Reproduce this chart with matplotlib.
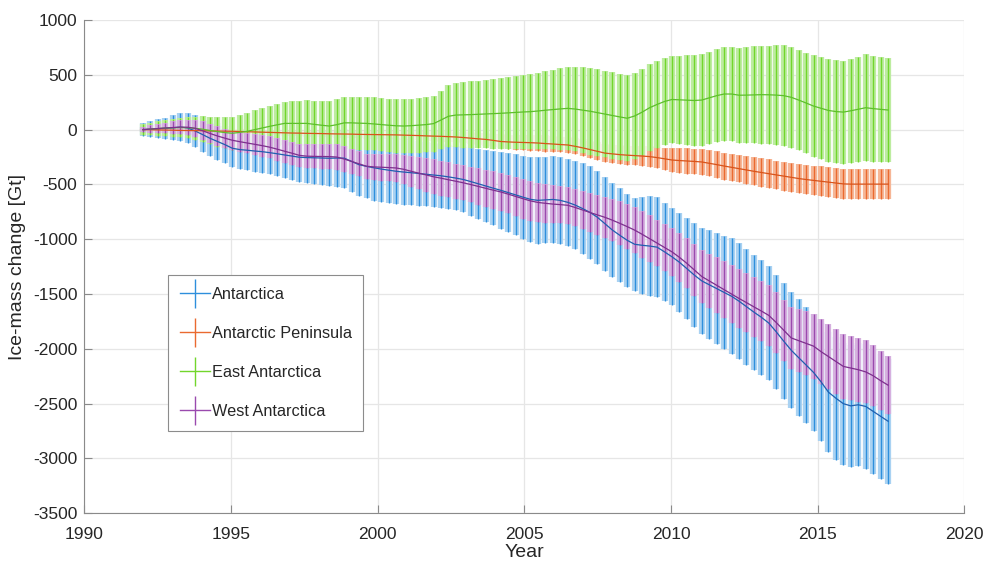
import numpy as np
import matplotlib
matplotlib.use("Agg")
import matplotlib.pyplot as plt
from matplotlib.container import ErrorbarContainer
from matplotlib.legend_handler import HandlerErrorbar
from matplotlib.lines import Line2D
from matplotlib.collections import LineCollection

plt.rcParams['font.family'] = ['Liberation Sans', 'DejaVu Sans']
plt.rcParams['axes.unicode_minus'] = False

# Time grid of the mass-balance estimates (decimal years)
years = np.linspace(1992.0, 2017.4, 101)

# Antarctica (whole ice sheet): cumulative mass change and 1-sigma uncertainty [Gt]
ais_mass = [
    0, 4, 8, 12, 17, 23, 15, -12, -45, -79,
    -108, -137, -170, -182, -188, -195, -201, -210, -220, -231,
    -241, -252, -255, -257, -259, -261, -259, -260, -290, -320,
    -335, -348, -360, -370, -380, -387, -393, -400, -407, -414,
    -421, -431, -442, -455, -474, -494, -514, -534, -553, -574,
    -595, -616, -636, -645, -641, -637, -645, -663, -688, -720,
    -755, -800, -858, -916, -964, -1010, -1046, -1055, -1062, -1072,
    -1115, -1160, -1210, -1268, -1327, -1380, -1415, -1450, -1485, -1520,
    -1565, -1615, -1665, -1712, -1765, -1845, -1930, -2012, -2080, -2147,
    -2215, -2300, -2395, -2450, -2500, -2520, -2510, -2525, -2570, -2615,
    -2660]
ais_err = [
    60, 72, 85, 98, 112, 128, 140, 150, 158, 165,
    167, 168, 170, 176, 182, 187, 192, 198, 204, 210,
    216, 222, 230, 238, 246, 254, 260, 268, 276, 284,
    292, 300, 303, 302, 300, 298, 296, 294, 292, 290,
    290, 290, 292, 298, 310, 320, 330, 340, 350, 360,
    370, 380, 390, 395, 395, 395, 395, 395, 405, 418,
    422, 426, 430, 432, 430, 425, 422, 440, 458, 455,
    448, 442, 450, 460, 472, 485, 495, 505, 515, 528,
    530, 528, 525, 522, 520, 523, 527, 530, 532, 533,
    535, 540, 550, 560, 558, 555, 562, 570, 570, 570,
    570]

# Antarctic Peninsula
apis_mass = [
    0, -1, -3, -4, -5, -7, -8, -9, -10, -12,
    -13, -14, -15, -17, -19, -21, -23, -25, -27, -29,
    -31, -32, -34, -35, -36, -38, -39, -40, -41, -43,
    -44, -45, -46, -47, -48, -50, -52, -54, -57, -59,
    -61, -64, -67, -72, -78, -84, -89, -98, -108, -112,
    -115, -117, -119, -122, -127, -131, -136, -140, -152, -166,
    -182, -198, -214, -221, -228, -233, -237, -241, -246, -255,
    -266, -277, -282, -286, -290, -295, -307, -319, -332, -344,
    -356, -368, -380, -391, -402, -413, -424, -435, -446, -455,
    -463, -471, -479, -487, -495, -497, -497, -497, -497, -497,
    -497]
apis_err = [
    5, 6, 8, 9, 10, 11, 12, 14, 15, 16,
    17, 18, 20, 21, 22, 23, 24, 25, 26, 27,
    28, 29, 30, 31, 32, 33, 34, 35, 36, 37,
    38, 39, 40, 41, 42, 43, 44, 45, 46, 47,
    48, 49, 50, 52, 55, 57, 59, 62, 64, 66,
    68, 70, 72, 74, 74, 73, 72, 72, 74, 77,
    79, 82, 84, 85, 86, 87, 88, 90, 93, 97,
    102, 110, 116, 117, 117, 117, 119, 121, 123, 125,
    126, 127, 128, 129, 130, 131, 132, 133, 134, 134,
    135, 135, 136, 136, 137, 137, 137, 137, 137, 137,
    137]

# East Antarctica
eais_mass = [
    0, 5, 10, 14, 17, 19, 18, 12, 4, -8,
    -18, -27, -33, -25, -15, 0, 15, 30, 44, 57,
    57, 57, 57, 48, 40, 33, 45, 62, 62, 59,
    57, 52, 46, 40, 35, 33, 36, 41, 46, 55,
    88, 122, 133, 135, 137, 140, 143, 146, 149, 153,
    157, 161, 164, 170, 177, 183, 189, 194, 188, 178,
    168, 155, 142, 129, 116, 104, 125, 160, 200, 230,
    257, 275, 272, 269, 266, 270, 290, 310, 325, 325,
    314, 315, 317, 319, 318, 315, 310, 295, 270, 243,
    215, 195, 175, 165, 160, 172, 186, 200, 192, 185,
    179]
eais_err = [
    50, 58, 66, 73, 80, 89, 98, 107, 117, 127,
    136, 144, 152, 160, 168, 175, 180, 185, 191, 197,
    203, 207, 210, 214, 219, 224, 230, 235, 240, 241,
    242, 242, 243, 244, 244, 245, 247, 250, 252, 256,
    268, 283, 292, 298, 303, 308, 314, 320, 326, 331,
    336, 340, 344, 350, 357, 364, 371, 378, 384, 390,
    395, 395, 394, 393, 392, 392, 393, 394, 395, 395,
    395, 398, 403, 409, 415, 420, 422, 425, 427, 430,
    434, 438, 442, 446, 449, 453, 458, 460, 460, 460,
    462, 464, 466, 468, 470, 475, 481, 487, 484, 481,
    478]

# West Antarctica
wais_mass = [
    0, 5, 10, 15, 19, 23, 22, 12, -10, -35,
    -58, -78, -97, -110, -122, -134, -146, -160, -178, -197,
    -215, -235, -242, -244, -245, -246, -250, -268, -290, -312,
    -334, -340, -343, -346, -350, -362, -380, -397, -413, -430,
    -443, -457, -471, -485, -501, -518, -535, -552, -568, -588,
    -609, -630, -650, -664, -672, -679, -684, -690, -710, -733,
    -756, -778, -800, -826, -855, -885, -917, -955, -995, -1035,
    -1075, -1115, -1165, -1220, -1280, -1340, -1380, -1420, -1460, -1500,
    -1540, -1578, -1617, -1655, -1695, -1760, -1830, -1900, -1925, -1950,
    -1975, -2025, -2070, -2115, -2160, -2175, -2190, -2210, -2245, -2290,
    -2331]
wais_err = [
    25, 33, 41, 49, 56, 63, 70, 78, 85, 90,
    88, 86, 86, 90, 94, 98, 101, 103, 104, 104,
    105, 105, 107, 109, 111, 113, 115, 115, 115, 115,
    115, 118, 122, 126, 130, 135, 141, 147, 152, 158,
    158, 159, 159, 160, 163, 167, 170, 173, 175, 177,
    179, 181, 183, 181, 178, 175, 172, 170, 172, 175,
    178, 181, 187, 193, 200, 206, 212, 212, 212, 213,
    213, 216, 222, 229, 236, 244, 250, 256, 262, 268,
    271, 272, 273, 274, 275, 277, 279, 282, 287, 292,
    297, 300, 300, 299, 297, 295, 291, 287, 279, 270,
    262]

labels = ["Antarctica", "Antarctic Peninsula", "East Antarctica", "West Antarctica"]
masses = [ais_mass, apis_mass, eais_mass, wais_mass]
errors = [ais_err, apis_err, eais_err, wais_err]
bar_colors = ["#2e8fdc", "#ea6a30", "#72d62c", "#9a4aae"]
halo_colors = ["#a9d2f2", "#f6b696", "#bdeca0", "#d6b0df"]
line_colors = ["#1f60b0", "#d9531a", "#5cc02a", "#7e2f8e"]

fig = plt.figure(figsize=(9.85, 5.64), dpi=100)
ax = fig.add_axes([0.0856, 0.0899, 0.8934, 0.8746])

for mass, err, bc, hc, lc in zip(masses, errors, bar_colors, halo_colors, line_colors):
    m = np.asarray(mass, dtype=float)
    e = np.asarray(err, dtype=float)
    ax.vlines(years, m - e, m + e, colors=hc, linewidth=4.5, zorder=2)
    cont = ax.errorbar(years, m, yerr=e, fmt='-', color=lc, lw=0.9,
                       ecolor=bc, elinewidth=1.0, capsize=0, zorder=2)
    cont.lines[0].set_zorder(4)

# Legend with cross-shaped errorbar keys
handles = []
for lab, bc in zip(labels, bar_colors):
    ln = Line2D([], [], color=bc, lw=1.0)
    lcol = LineCollection([], colors=bc, linewidths=1.0)
    handles.append(ErrorbarContainer((ln, (), (lcol,)), has_xerr=False,
                                     has_yerr=True, label=lab))
leg = ax.legend(handles=handles, labels=labels,
                handler_map={ErrorbarContainer: HandlerErrorbar(yerr_size=0.89)},
                loc='lower left', bbox_to_anchor=(0.0955, 0.1674),
                borderaxespad=0, fontsize=11.7, handlelength=1.85,
                handletextpad=0.1, labelspacing=1.48, borderpad=0.72,
                frameon=True, fancybox=False, framealpha=1,
                edgecolor='#8c8c8c')
leg.get_frame().set_linewidth(0.8)
for t in leg.get_texts():
    t.set_color('#262626')

ax.set_xlim(1990, 2020)
ax.set_ylim(-3500, 1000)
ax.set_xticks(np.arange(1990, 2021, 5))
ax.set_yticks(np.arange(-3500, 1001, 500))
ax.grid(True, color='#e6e6e6', linewidth=0.9)
ax.set_axisbelow(True)
for s in ['top', 'right']:
    ax.spines[s].set_visible(False)
for s in ['left', 'bottom']:
    ax.spines[s].set_color('#8a8a8a')
    ax.spines[s].set_linewidth(0.8)
ax.tick_params(direction='in', length=6, width=0.8, color='#8a8a8a',
               labelsize=12.5, labelcolor='#262626')
ax.tick_params(axis='y', pad=5)
ax.tick_params(axis='x', pad=10)
ax.set_xlabel('Year', fontsize=14, color='#262626', labelpad=1)
ax.set_ylabel('Ice-mass change [Gt]', fontsize=14, color='#262626', labelpad=5)

fig.savefig('out.png', dpi=100)
